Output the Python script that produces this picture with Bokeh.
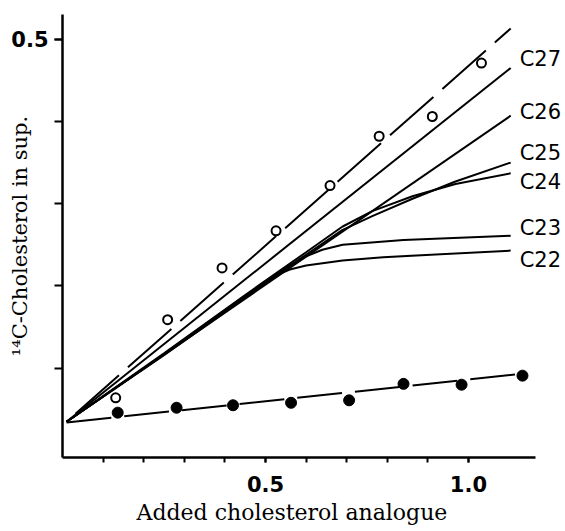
from bokeh.plotting import figure
from bokeh.models import ColumnDataSource, FixedTicker, Range1d, PrintfTickFormatter, Title
from bokeh.core.properties import value
from bokeh.embed import file_html
from bokeh.resources import INLINE

# ---- data ----
open_x = [0.131, 0.259, 0.393, 0.526, 0.659, 0.780, 0.911, 1.032]
open_y = [0.064, 0.159, 0.222, 0.267, 0.322, 0.382, 0.406, 0.471]
filled_x = [0.136, 0.281, 0.420, 0.563, 0.706, 0.840, 0.983, 1.133]
filled_y = [0.046, 0.052, 0.055, 0.058, 0.061, 0.081, 0.080, 0.091]

open_fit_x = [0.01, 1.104]
open_fit_y = [0.035, 0.513]
filled_fit_x = [0.01, 1.146]
filled_fit_y = [0.034, 0.094]

c27_x = [0.01, 1.104]
c27_y = [0.035, 0.465]
c26_x = [0.01, 1.104]
c26_y = [0.035, 0.407]
c25_x = [0.01, 0.25, 0.45, 0.60, 0.689, 0.763, 0.862, 0.968, 1.104]
c25_y = [0.035, 0.117, 0.187, 0.238, 0.268, 0.285, 0.306, 0.327, 0.350]
c24_x = [0.01, 0.25, 0.45, 0.60, 0.689, 0.763, 0.862, 0.968, 1.104]
c24_y = [0.035, 0.118, 0.189, 0.241, 0.272, 0.291, 0.309, 0.324, 0.337]
c23_x = [0.01, 0.25, 0.45, 0.52, 0.56, 0.60, 0.64, 0.69, 0.84, 1.104]
c23_y = [0.035, 0.117, 0.187, 0.211, 0.225, 0.236, 0.244, 0.250, 0.256, 0.261]
c22_x = [0.01, 0.25, 0.40, 0.46, 0.50, 0.53, 0.56, 0.60, 0.69, 0.79, 1.104]
c22_y = [0.035, 0.116, 0.168, 0.190, 0.205, 0.214, 0.220, 0.225, 0.231, 0.235, 0.243]

curve_names = ["C27", "C26", "C25", "C24", "C23", "C22"]
name_x = [1.126, 1.126, 1.126, 1.126, 1.126, 1.126]
name_y = [0.476, 0.411, 0.362, 0.326, 0.270, 0.231]

x_major = [0.5, 1.0]
x_minor = [0.1, 0.2, 0.3, 0.4, 0.5, 0.6, 0.7, 0.8, 0.9, 1.0]
y_major = [0.5]
y_minor = [0.1, 0.2, 0.3, 0.4, 0.5]
x_axis_end = 1.165

x_title = "Added cholesterol analogue"
y_title = "\u00b9\u2074C-Cholesterol in sup."

# ---- figure ----
p = figure(width=565, height=531, output_backend="svg", toolbar_location=None,
           x_range=Range1d(0, 1.239), y_range=Range1d(-0.0085, 0.530),
           min_border_left=62, min_border_right=0, min_border_top=14,
           min_border_bottom=74)
p.xgrid.visible = False
p.ygrid.visible = False
p.outline_line_color = None
p.background_fill_color = "white"
p.border_fill_color = "white"

for ax in (p.xaxis[0], p.yaxis[0]):
    ax.axis_line_width = 2.5
    ax.axis_line_color = "black"
    ax.major_tick_line_width = 2
    ax.minor_tick_line_width = 2
    ax.major_tick_in = 0
    ax.minor_tick_in = 0
    ax.major_label_text_font = "DejaVu Sans"
    ax.major_label_text_font_style = "bold"
    ax.major_label_text_font_size = "21px"
    ax.major_label_text_color = "black"
    ax.axis_label_text_color = "black"
    ax.axis_label_text_font = "DejaVu Serif"
    ax.axis_label_text_font_style = "normal"
    ax.formatter = PrintfTickFormatter(format="%.1f")

p.xaxis.ticker = FixedTicker(ticks=x_major, minor_ticks=x_minor)
p.yaxis.ticker = FixedTicker(ticks=y_major, minor_ticks=y_minor)
p.xaxis.bounds = (0, x_axis_end)
p.xaxis.major_tick_out = 5
p.xaxis.minor_tick_out = 5
p.yaxis.major_tick_out = 8
p.yaxis.minor_tick_out = 8
p.xaxis.major_label_standoff = 13
p.yaxis.major_label_standoff = 6

p.yaxis.axis_label = y_title
p.yaxis.axis_label_text_font_size = "21px"
p.yaxis.axis_label_standoff = -24

# x-axis title as a below-title so it can be centred under the drawn axis
p.add_layout(Title(text=x_title, align="left", offset=74, standoff=6,
                   text_font="DejaVu Serif", text_font_size="22px",
                   text_font_style="normal", text_color="black"), "below")

# ---- lines ----
p.line(open_fit_x, open_fit_y, line_width=2, color="black",
       line_dash="58 12", line_dash_offset=58)
p.line(filled_fit_x, filled_fit_y, line_width=2, color="black",
       line_dash="45 13", line_dash_offset=0)
for xs, ys in [(c27_x, c27_y), (c26_x, c26_y), (c25_x, c25_y),
               (c24_x, c24_y), (c23_x, c23_y), (c22_x, c22_y)]:
    p.line(xs, ys, line_width=2, color="black")

p.scatter(open_x, open_y, size=9, fill_color="white", line_color="black", line_width=2)
p.scatter(filled_x, filled_y, size=11, fill_color="black", line_color="black")

# ---- curve labels ----
src = ColumnDataSource(dict(x=name_x, y=name_y, t=curve_names))
p.text(x="x", y="y", text="t", source=src, text_font=value("DejaVu Sans"),
       text_font_size="21px", text_align="left", text_baseline="middle",
       text_color="black")

open("out.html", "w").write(file_html(p, INLINE))
